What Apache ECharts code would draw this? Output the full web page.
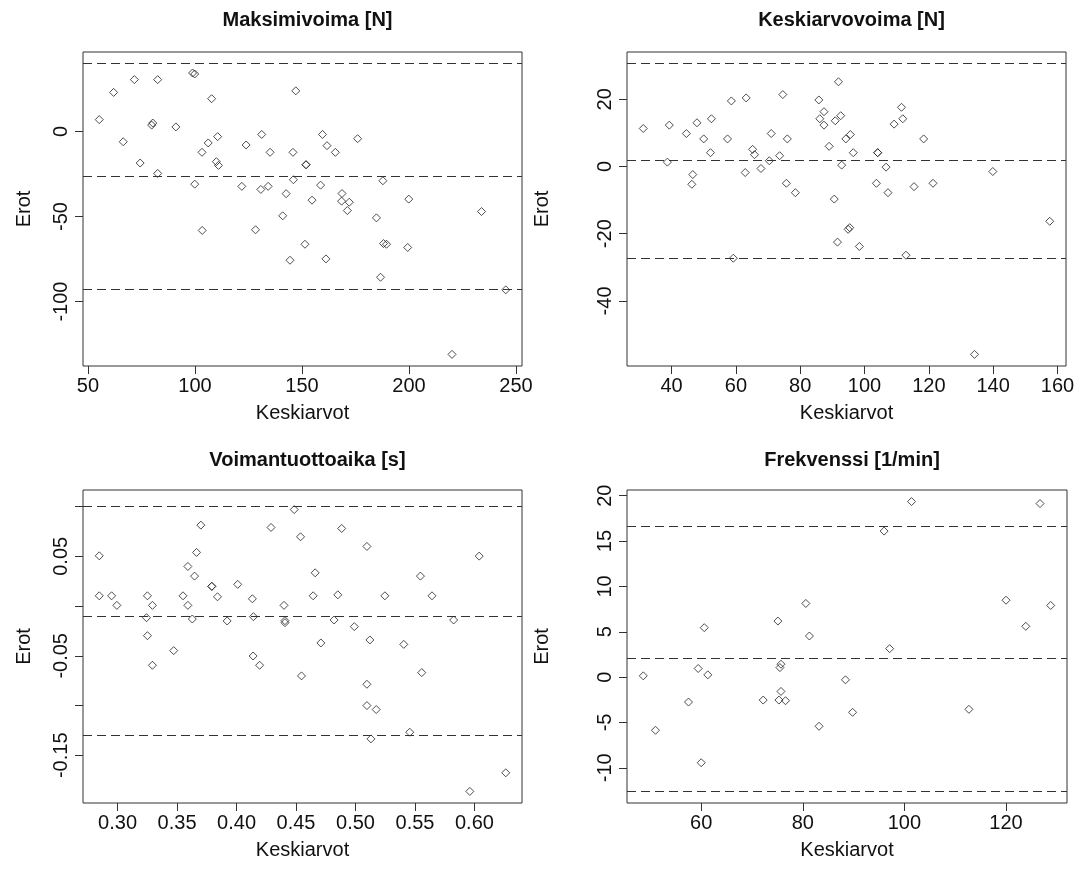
<!DOCTYPE html>
<html>
<head>
<meta charset="utf-8">
<title>Erot vs Keskiarvot</title>
<script src="https://cdn.jsdelivr.net/npm/echarts@6/dist/echarts.min.js"></script>
<style>
  html, body { margin: 0; padding: 0; background: #fff; }
  #main { width: 1078px; height: 873px; }
</style>
</head>
<body>
<div id="main"></div>
<script>
  // Maksimivoima [N]
  var maksX = [55.3, 62.0, 66.5, 71.7, 74.4, 79.8, 80.3, 82.6, 82.6, 91.1, 98.9, 99.9, 99.9, 103.3, 103.4, 106.2, 107.8, 110.0, 110.6, 111.0,
    121.9, 123.9, 128.3, 130.8, 131.2, 134.2, 135.1, 141.0, 142.6, 144.4, 145.8, 146.0, 147.1, 151.4, 151.9, 151.9, 154.7, 158.7, 159.6, 161.2,
    161.7, 165.6, 168.5, 168.7, 171.2, 172.1, 176.0, 184.8, 186.7, 187.8, 188.1, 189.5, 199.4, 199.9, 220.1, 233.9, 245.2];
  var maksY = [6.9, 22.9, -6.1, 30.4, -18.6, 3.7, 4.9, 30.4, -24.7, 2.6, 34.3, 33.7, -31.0, -12.3, -58.2, -6.8, 19.2, -17.8, -3.1, -20.0,
    -32.3, -8.0, -57.8, -34.1, -1.8, -32.3, -12.3, -49.6, -36.6, -75.7, -12.3, -28.4, 23.8, -66.3, -19.6, -19.6, -40.4, -31.6, -1.8, -74.9,
    -8.4, -12.3, -41.0, -36.5, -46.5, -41.6, -4.3, -50.8, -85.7, -29.0, -65.9, -66.3, -68.2, -39.8, -131.0, -47.1, -93.1];
  var maksLines = [39.8, -26.5, -92.7];
  var maksXTicks = [50, 100, 150, 200, 250];
  var maksYTicks = [-100, -50, 0];

  // Keskiarvovoima [N]
  var keskX = [31.2, 38.7, 39.3, 44.6, 46.3, 46.6, 47.9, 50.0, 52.1, 52.4, 57.4, 58.6, 59.2, 62.9, 63.2, 65.2, 65.8, 67.8, 70.4, 71.0,
    73.6, 74.6, 75.7, 76.0, 78.5, 85.8, 86.1, 87.4, 87.4, 89.0, 90.6, 90.9, 91.6, 91.9, 92.6, 92.9, 94.2, 94.9, 95.4, 95.6,
    96.5, 98.4, 103.7, 104.1, 104.1, 106.7, 107.3, 109.2, 111.5, 111.9, 112.9, 115.4, 118.4, 121.3, 134.2, 139.9, 157.6];
  var keskY = [11.3, 1.3, 12.3, 9.8, -5.3, -2.4, 13.0, 8.2, 4.1, 14.2, 8.2, 19.5, -27.3, -1.8, 20.4, 5.1, 3.5, -0.6, 1.7, 9.8,
    3.2, 21.4, -5.0, 8.2, -7.8, 19.8, 14.2, 16.3, 12.3, 6.0, -9.7, 13.6, -22.5, 25.2, 15.1, 0.4, 8.2, -18.7, -18.2, 9.5,
    4.1, -23.8, -5.0, 4.1, 4.1, -0.2, -7.8, 12.6, 17.6, 14.2, -26.4, -6.0, 8.2, -5.0, -55.9, -1.5, -16.3];
  var keskLines = [30.6, 1.8, -27.2];
  var keskXTicks = [40, 60, 80, 100, 120, 140, 160];
  var keskYTicks = [-40, -20, 0, 20];

  // Voimantuottoaika [s]
  var voimaX = [0.2846, 0.2846, 0.295, 0.2994, 0.3243, 0.3251, 0.3251, 0.3293, 0.3293, 0.3472, 0.355, 0.3591, 0.3591, 0.3628, 0.3647,
    0.3664, 0.370, 0.3792, 0.3792, 0.384, 0.3921, 0.401, 0.4133, 0.4139, 0.4142, 0.4194, 0.429, 0.4399, 0.4407, 0.4407,
    0.4485, 0.4538, 0.4546, 0.4644, 0.4661, 0.4709, 0.482, 0.4851, 0.4884, 0.499, 0.5096, 0.5096, 0.5096, 0.5121, 0.513,
    0.5174, 0.5247, 0.5406, 0.5456, 0.5546, 0.5557, 0.5643, 0.5825, 0.5961, 0.604, 0.6263];
  var voimaY = [0.0505, 0.0103, 0.0103, 0.0007, -0.0117, 0.0103, -0.0298, 0.0007, -0.0595, -0.0448, 0.0103, 0.0398, 0.0007, -0.013, 0.0301,
    0.0539, 0.0813, 0.0198, 0.0198, 0.0093, -0.015, 0.0218, 0.0073, -0.0502, -0.0107, -0.0595, 0.079, 0.0007, -0.0167, -0.0147,
    0.097, 0.0696, -0.0702, 0.0103, 0.0334, -0.0371, -0.014, 0.0113, 0.078, -0.0207, 0.0599, -0.0786, -0.100, -0.0341, -0.1335,
    -0.104, 0.0103, -0.0385, -0.1268, 0.0301, -0.0669, 0.0103, -0.014, -0.1863, 0.0502, -0.1676];
  var voimaLines = [0.105, -0.011, -0.127];
  var voimaXTicks = [0.30, 0.35, 0.40, 0.45, 0.50, 0.55, 0.60];
  var voimaYTicks = [-0.15, -0.10, -0.05, 0, 0.05, 0.10];
  var voimaYLabels = [-0.15, -0.05, 0.05];

  // Frekvenssi [1/min]
  var frekX = [48.6, 51.0, 57.5, 59.4, 60.0, 60.6, 61.3, 72.2, 75.1, 75.3, 75.5, 75.7, 75.7, 76.6, 80.6, 81.3, 83.2, 88.4, 89.8, 96.0,
    97.1, 101.4, 112.7, 120.0, 123.9, 126.7, 128.8];
  var frekY = [0.14, -5.86, -2.75, 0.95, -9.44, 5.45, 0.25, -2.53, 6.18, -2.53, 1.05, 1.42, -1.58, -2.6, 8.12, 4.53, -5.42, -0.3, -3.88, 16.1,
    3.14, 19.35, -3.55, 8.48, 5.6, 19.13, 7.9];
  var frekLines = [16.6, 2.09, -12.6];
  var frekXTicks = [60, 80, 100, 120];
  var frekYTicks = [-10, -5, 0, 5, 10, 15, 20];

  var FONT = "'Liberation Sans', Arial, sans-serif";

  // R:n oletus: akselin alue = datan alue + 4 % molempiin päihin
  function padRange(values) {
    var lo = Math.min.apply(null, values), hi = Math.max.apply(null, values);
    var d = (hi - lo) * 0.04;
    return [lo - d, hi + d];
  }

  var panels = [
    {title: 'Maksimivoima [N]', x: maksX, y: maksY, lines: maksLines, xt: maksXTicks, yt: maksYTicks, yl: maksYTicks,
      grid: {left: 83, top: 52, width: 439, height: 314}, titleTop: 5, nameGap: 49, xfmt: 0, yfmt: 0},
    {title: 'Keskiarvovoima [N]', x: keskX, y: keskY, lines: keskLines, xt: keskXTicks, yt: keskYTicks, yl: keskYTicks,
      grid: {left: 627, top: 52, width: 439, height: 314}, titleTop: 5, nameGap: 75, xfmt: 0, yfmt: 0},
    {title: 'Voimantuottoaika [s]', x: voimaX, y: voimaY, lines: voimaLines, xt: voimaXTicks, yt: voimaYTicks, yl: voimaYLabels,
      grid: {left: 83, top: 490, width: 439, height: 313}, titleTop: 445, nameGap: 49, xfmt: 2, yfmt: 2},
    {title: 'Frekvenssi [1/min]', x: frekX, y: frekY, lines: frekLines, xt: frekXTicks, yt: frekYTicks, yl: frekYTicks,
      grid: {left: 627, top: 490, width: 440, height: 313}, titleTop: 445, nameGap: 75, xfmt: 0, yfmt: 0}
  ];

  var option = {
    animation: false,
    backgroundColor: '#fff',
    title: [], grid: [], xAxis: [], yAxis: [], series: []
  };

  panels.forEach(function (p, i) {
    var xr = padRange(p.x);
    var yr = padRange(p.y.concat(p.lines));
    option.title.push({
      text: p.title,
      left: p.grid.left + p.grid.width / 2,
      top: p.titleTop,
      textAlign: 'center',
      textStyle: {fontFamily: FONT, fontSize: 20, fontWeight: 'bold', color: '#111'}
    });
    option.grid.push({
      left: p.grid.left, top: p.grid.top, width: p.grid.width, height: p.grid.height,
      show: true, borderColor: '#333', borderWidth: 1, backgroundColor: 'transparent'
    });
    option.xAxis.push({
      gridIndex: i, type: 'value', min: xr[0], max: xr[1],
      axisLine: {show: false, onZero: false},
      axisTick: {show: true, length: 8, customValues: p.xt, lineStyle: {color: '#333'}},
      axisLabel: {
        customValues: p.xt, margin: 10, fontFamily: FONT, fontSize: 20, color: '#111',
        formatter: function (v) { return v.toFixed(p.xfmt); }
      },
      splitLine: {show: false},
      name: 'Keskiarvot', nameLocation: 'middle', nameGap: 37,
      nameTextStyle: {fontFamily: FONT, fontSize: 20, color: '#111'}
    });
    option.yAxis.push({
      gridIndex: i, type: 'value', min: yr[0], max: yr[1],
      axisLine: {show: false, onZero: false},
      axisTick: {show: true, length: 8, customValues: p.yt, lineStyle: {color: '#333'}},
      axisLabel: {
        customValues: p.yl, rotate: 90, margin: 12, fontFamily: FONT, fontSize: 20, color: '#111',
        formatter: function (v) { return v.toFixed(p.yfmt); }
      },
      splitLine: {show: false},
      name: 'Erot', nameLocation: 'middle', nameGap: p.nameGap,
      nameTextStyle: {fontFamily: FONT, fontSize: 20, color: '#111'}
    });
    option.series.push({
      type: 'scatter',
      xAxisIndex: i, yAxisIndex: i,
      data: p.x.map(function (v, k) { return [v, p.y[k]]; }),
      symbol: 'diamond', symbolSize: 8,
      itemStyle: {color: 'rgba(0,0,0,0)', borderColor: '#222', borderWidth: 1},
      emphasis: {disabled: true},
      silent: true,
      markLine: {
        silent: true, symbol: 'none', animation: false,
        label: {show: false},
        lineStyle: {type: [9, 5], color: '#333', width: 1},
        data: p.lines.map(function (v) { return {yAxis: v}; })
      }
    });
  });

  var chart = echarts.init(document.getElementById('main'));
  chart.setOption(option);
</script>
</body>
</html>
